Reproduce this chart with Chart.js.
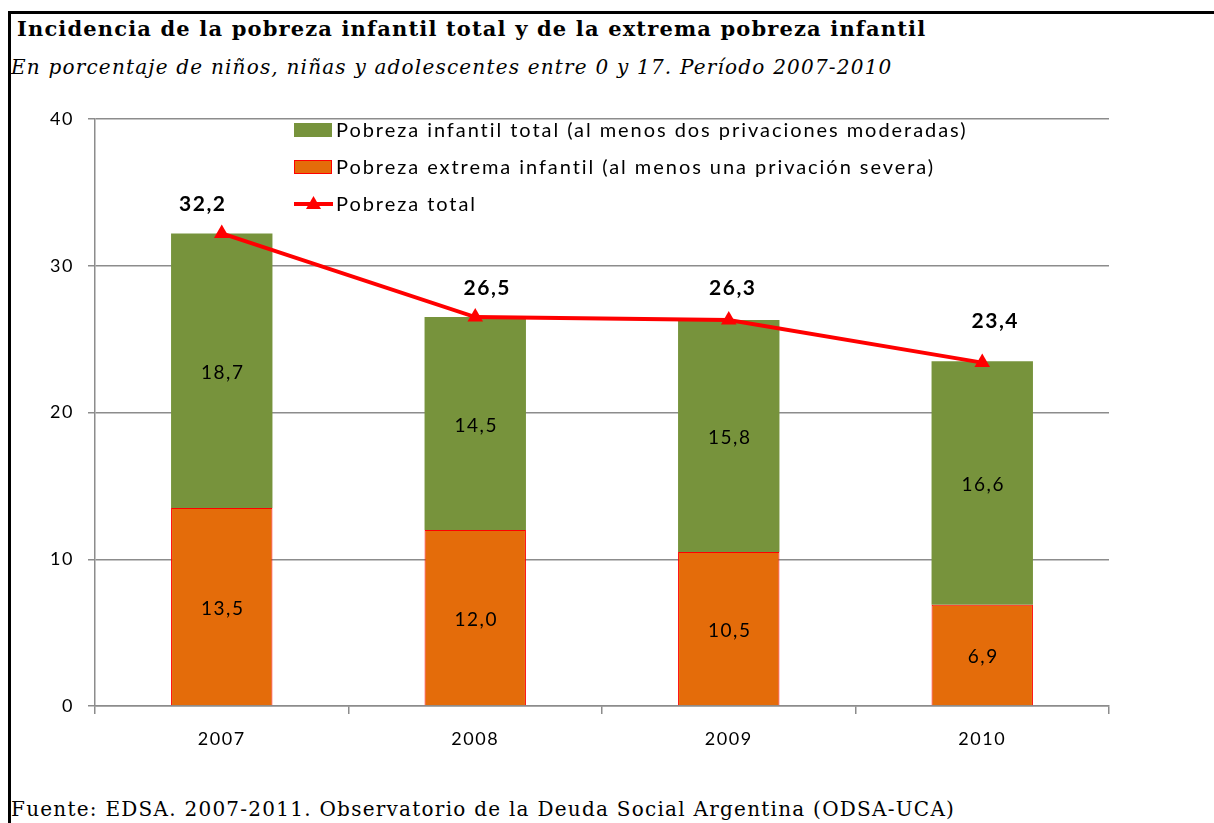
<!DOCTYPE html>
<html>
<head>
<meta charset="utf-8">
<script src="https://cdn.jsdelivr.net/npm/chart.js@4.4.1/dist/chart.umd.min.js"></script>
<style>
  html, body { margin: 0; padding: 0; background: #fff; }
  #wrap { position: relative; width: 1214px; height: 823px; overflow: hidden; background: #fff; }
  #frameL { position: absolute; left: 8px; top: 11px; width: 3px; height: 812px; background: #000; }
  #frameT { position: absolute; left: 8px; top: 11px; width: 1206px; height: 3px; background: #000; }
  .txt { position: absolute; font-family: "DejaVu Serif", serif; color: #000; white-space: nowrap; }
  #title { left: 17px; top: 16px; font-size: 21px; font-weight: bold; letter-spacing: 1.15px; }
  #subtitle { left: 11px; top: 55px; font-size: 20px; font-style: italic; letter-spacing: 1.2px; }
  #footer { left: 11px; top: 797px; font-size: 20px; letter-spacing: 1.25px; }
  #c { position: absolute; left: 0; top: 0; }
</style>
</head>
<body>
<div id="wrap">
  <div id="frameL"></div>
  <div id="frameT"></div>
  <div class="txt" id="title">Incidencia de la pobreza infantil total y de la extrema pobreza infantil</div>
  <div class="txt" id="subtitle">En porcentaje de niños, niñas y adolescentes entre 0 y 17. Período 2007-2010</div>
  <div class="txt" id="footer">Fuente: EDSA. 2007-2011. Observatorio de la Deuda Social Argentina (ODSA-UCA)</div>
  <canvas id="c" width="1214" height="823"></canvas>
</div>
<script>
const years = ["2007", "2008", "2009", "2010"];
const extremaInfantil = [13.5, 12.0, 10.5, 6.9];
const totalInfantilModerada = [18.7, 14.5, 15.8, 16.6];
const pobrezaTotal = [32.2, 26.5, 26.3, 23.4];
const yTicks = [0, 10, 20, 30, 40];

const seriesNames = [
  "Pobreza infantil total (al menos dos privaciones moderadas)",
  "Pobreza extrema infantil (al menos una privación severa)",
  "Pobreza total"
];

const GREEN = "#77933C", ORANGE = "#E46C0A", RED = "#FF0000", GRID = "#8C8C8C";
const FONT = "Lato, 'Open Sans', sans-serif";
const fmt = v => v.toFixed(1).replace(".", ",");

// label offsets relative to point (style only)
const lineLabelOffsets = [[-19, -29], [12, -29], [4, -32], [13, -41]];

const spacingPlugin = {
  id: "spacingPlugin",
  beforeDraw(chart) { chart.ctx.letterSpacing = "1.5px"; }
};

const labelsPlugin = {
  id: "labelsPlugin",
  afterDatasetsDraw(chart) {
    const ctx = chart.ctx;
    ctx.save();
    ctx.letterSpacing = "1.5px";
    ctx.textAlign = "center";
    ctx.textBaseline = "middle";
    [0, 1].forEach(di => {
      const meta = chart.getDatasetMeta(di);
      const ds = chart.data.datasets[di];
      meta.data.forEach((bar, i) => {
        const p = bar.getProps(["x", "y", "base"], true);
        ctx.font = "19px " + FONT;
        ctx.fillStyle = "#000";
        ctx.fillText(fmt(ds.data[i]), p.x + 1, (p.y + p.base) / 2 + 2);
      });
    });
    const lm = chart.getDatasetMeta(2);
    const lds = chart.data.datasets[2];
    lm.data.forEach((pt, i) => {
      const o = lineLabelOffsets[i];
      ctx.font = "bold 21px " + FONT;
      ctx.fillStyle = "#000";
      ctx.fillText(fmt(lds.data[i]), pt.x + o[0], pt.y + o[1]);
    });
    ctx.restore();
  }
};

const legendPlugin = {
  id: "legendPlugin",
  afterDraw(chart) {
    const ctx = chart.ctx;
    ctx.save();
    const x0 = 294, rows = [130, 167, 204];
    ctx.font = "20px " + FONT;
    ctx.letterSpacing = "1.95px";
    ctx.textBaseline = "middle";
    ctx.textAlign = "left";
    ctx.fillStyle = GREEN;
    ctx.fillRect(x0, rows[0] - 7, 38, 14);
    ctx.fillStyle = ORANGE;
    ctx.fillRect(x0, rows[1] - 7, 38, 14);
    ctx.strokeStyle = RED; ctx.lineWidth = 1;
    ctx.strokeRect(x0 + 0.5, rows[1] - 6.5, 37, 13);
    ctx.strokeStyle = RED; ctx.lineWidth = 4;
    ctx.beginPath(); ctx.moveTo(x0, rows[2]); ctx.lineTo(x0 + 39, rows[2]); ctx.stroke();
    ctx.fillStyle = RED;
    ctx.beginPath();
    ctx.moveTo(x0 + 19.5, rows[2] - 8);
    ctx.lineTo(x0 + 27, rows[2] + 5);
    ctx.lineTo(x0 + 12, rows[2] + 5);
    ctx.closePath(); ctx.fill();
    ctx.fillStyle = "#000";
    seriesNames.forEach((n, i) => ctx.fillText(n, x0 + 42, rows[i] + 1));
    ctx.restore();
  }
};

new Chart(document.getElementById("c"), {
  data: {
    labels: years,
    datasets: [
      {
        type: "bar", label: seriesNames[1], data: extremaInfantil,
        backgroundColor: ORANGE, borderColor: RED,
        borderWidth: { left: 1, right: 1, top: 1, bottom: 0 }, borderSkipped: false,
        stack: "s", order: 2, barPercentage: 0.40, categoryPercentage: 1.0
      },
      {
        type: "bar", label: seriesNames[0], data: totalInfantilModerada,
        backgroundColor: GREEN, borderWidth: 0,
        stack: "s", order: 2, barPercentage: 0.40, categoryPercentage: 1.0
      },
      {
        type: "line", label: seriesNames[2], data: pobrezaTotal,
        borderColor: RED, backgroundColor: RED, borderWidth: 4,
        pointStyle: "triangle", pointRadius: 9, pointHoverRadius: 9,
        pointBackgroundColor: RED, pointBorderColor: RED, pointBorderWidth: 0,
        stack: "line", order: 0, tension: 0
      }
    ]
  },
  options: {
    responsive: false,
    animation: false,
    devicePixelRatio: 1,
    layout: { padding: { left: 0, right: 105, top: 119, bottom: 0 } },
    plugins: { legend: { display: false }, tooltip: { enabled: false }, title: { display: false } },
    scales: {
      x: {
        stacked: true,
        offset: true,
        grid: { display: true, drawOnChartArea: false, drawTicks: true, tickLength: 8, color: GRID, lineWidth: 1.5, offset: true },
        border: { display: true, color: GRID, width: 1.5 },
        ticks: { color: "#000", font: { family: FONT, size: 18 }, padding: 14 },
        afterFit(s) { s.height = 117; }
      },
      y: {
        stacked: true,
        min: 0, max: 40,
        afterBuildTicks(s) { s.ticks = yTicks.map(v => ({ value: v })); },
        grid: { color: GRID, lineWidth: 1.5, drawTicks: true, tickLength: 7 },
        border: { display: true, color: GRID, width: 1.5 },
        ticks: { color: "#000", font: { family: FONT, size: 18 }, padding: 14 },
        afterFit(s) { s.width = 95; }
      }
    }
  },
  plugins: [spacingPlugin, labelsPlugin, legendPlugin]
});
</script>
</body>
</html>
